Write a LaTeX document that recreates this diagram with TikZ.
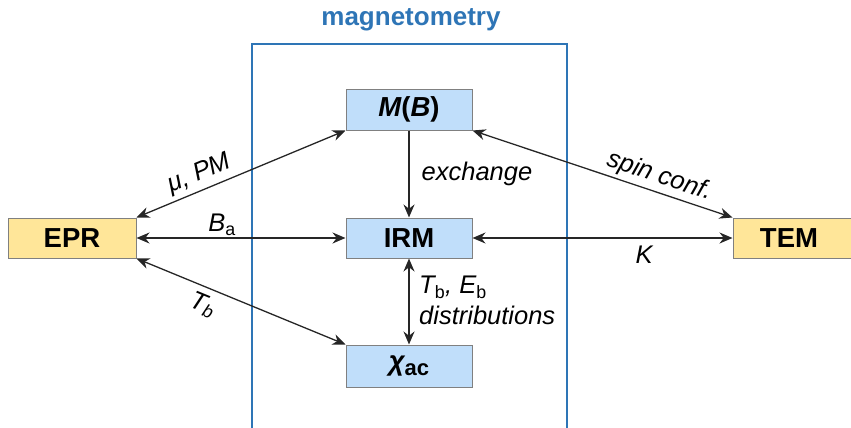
\documentclass[tikz,border=0pt]{standalone}
\usepackage{fontspec}
\setmainfont{Liberation Sans}
\usetikzlibrary{arrows.meta}
\definecolor{mblue}{RGB}{46,117,182}
\definecolor{bfill}{RGB}{192,222,250}
\definecolor{yfill}{RGB}{255,230,153}
\definecolor{bgray}{RGB}{128,128,128}
\definecolor{lgray}{RGB}{38,38,38}
\tikzset{
  box/.style={draw=bgray, line width=1pt, minimum height=40pt, inner sep=0pt, font=\fontsize{27.5}{31}\selectfont\bfseries},
  bluebox/.style={box, fill=bfill, minimum width=126pt},
  yelbox/.style={box, fill=yfill},
  conn/.style={draw=lgray, line width=1.3pt, {Stealth[length=13pt,width=11pt]}-{Stealth[length=13pt,width=11pt]}},
  oneway/.style={draw=lgray, line width=1.3pt, -{Stealth[length=13pt,width=11pt]}},
  lab/.style={font=\fontsize{25.5}{30}\selectfont\itshape, inner sep=2pt}
}
\begin{document}
\begin{tikzpicture}[x=1pt,y=-1pt]
\useasboundingbox (0,0) rectangle (851,428);
% magnetometry frame
\coordinate (fbl) at (252,432);
\coordinate (ftl) at (252,44);
\coordinate (ftr) at (567,44);
\coordinate (fbr) at (567,432);
\draw[mblue, line width=2pt] (fbl) -- (ftl) -- (ftr) -- (fbr);
\node[font=\fontsize{26}{30}\selectfont\bfseries, text=mblue] (title) at (411,20) {magnetometry};
% boxes
\node[bluebox, minimum height=41pt] (mb) at (409,109.5) {\itshape M\upshape(\itshape B\upshape)};
\node[bluebox] (irm) at (409,238) {IRM};
\node[bluebox, minimum height=42pt] (chi) at (409,366) {\itshape χ\upshape\raisebox{-5pt}{\fontsize{22}{26}\selectfont ac}};
\node[yelbox, minimum width=128pt] (epr) at (72,238) {EPR};
\node[yelbox, minimum width=118pt, text width=110pt, align=center] (tem) at (792,238) {\hspace*{-6pt}TEM};
% connectors
\draw[oneway] (mb.south) -- node[lab, right, pos=0.5, xshift=10pt, yshift=0pt] (lex) {exchange} (irm.north);
\draw[conn] (irm.south) -- (chi.north);
\node[lab, anchor=north west, align=left, inner sep=0pt] (ltb) at (419,276) {T\textsubscript{\upshape b}, E\textsubscript{\upshape b}\\[1pt]distributions};
\draw[conn] (epr.east) -- node[lab, above, pos=0.41] (lba) {B\textsubscript{\upshape a}} (irm.west);
\draw[conn] (irm.east) -- node[lab, below, pos=0.66, yshift=-5pt] (lk) {K} (tem.west);
\draw[conn] (epr.north east) -- node[lab, sloped, above, pos=0.33, yshift=2pt] (lmu) {μ, PM} (mb.south west);
\draw[conn] (epr.south east) -- node[lab, sloped, below, pos=0.35, yshift=-4pt] (ltb2) {T\textsubscript{b}} (chi.north west);
\draw[conn] (mb.south east) -- node[lab, sloped, above, pos=0.70, yshift=1pt] (lspin) {spin conf.} (tem.north west);
\end{tikzpicture}
\end{document}
